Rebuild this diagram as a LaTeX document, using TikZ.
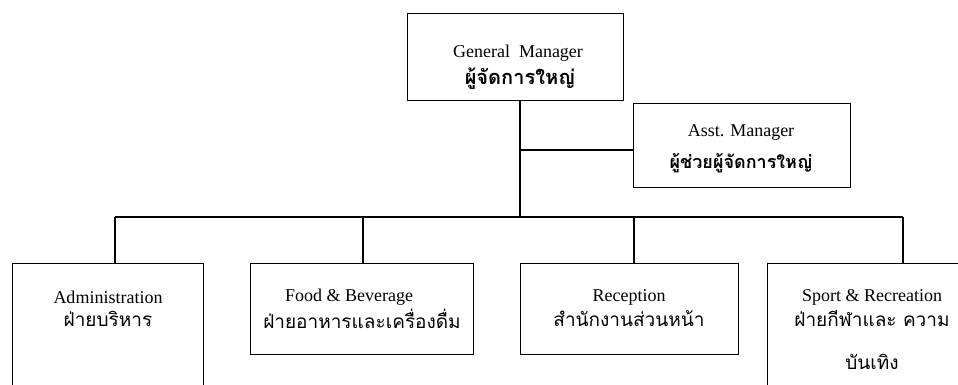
\documentclass[tikz,border=0pt]{standalone}
\usepackage{fontspec}
\setmainfont{Liberation Serif}
\newfontfamily\thaifont[Script=Thai]{Loma}
\begin{document}
\begin{tikzpicture}[x=1pt,y=-1pt,
  box/.style={draw,line width=1.3pt,rectangle,inner sep=0pt},
  en/.style={font=\fontsize{18}{20}\selectfont,inner sep=0pt},
  th/.style={font=\thaifont\fontsize{19}{22}\selectfont,inner sep=0pt},
  thb/.style={font=\thaifont\bfseries\fontsize{18}{22}\selectfont,inner sep=0pt},
  conn/.style={line width=1.3pt}]
\useasboundingbox (0,0) rectangle (958,385);
\clip (0,0) rectangle (958,385);
% boxes
\node[box,anchor=north west,minimum width=216pt,minimum height=87pt] (gm) at (407,13) {};
\node[box,anchor=north west,minimum width=217pt,minimum height=84pt] (asst) at (633,103) {};
\node[box,anchor=north west,minimum width=191pt,minimum height=140pt] (adm) at (12,263) {};
\node[box,anchor=north west,minimum width=223pt,minimum height=91pt] (fb) at (250,263) {};
\node[box,anchor=north west,minimum width=218pt,minimum height=91pt] (rec) at (520,263) {};
\node[box,anchor=north west,minimum width=220pt,minimum height=140pt] (spr) at (767,263) {};
% texts
\node[en] (gmt) at (518,53) {General\ \ Manager};
\node[thb,font=\thaifont\bfseries\fontsize{20}{22}\selectfont] (gmth) at (520,79) {ผู้จัดการใหญ่};
\node[en] (asstt) at (741,133) {Asst. Manager};
\node[thb] (assth) at (741,163) {ผู้ช่วยผู้จัดการใหญ่};
\node[en] (admt) at (108,297) {Administration};
\node[th] (admth) at (108,319) {ฝ่ายบริหาร};
\node[en] (fbt) at (349,297) {Food \& Beverage};
\node[th] (fbth) at (362,319) {ฝ่ายอาหารและเครื่องดื่ม};
\node[en] (rect) at (629,297) {Reception};
\node[th] (recth) at (629,319) {สำนักงานส่วนหน้า};
\node[en] (sprt) at (872,297) {Sport \& Recreation};
\node[th] (sprth) at (872,319) {ฝ่ายกีฬาและ ความ};
\node[th] (sprth2) at (872,362) {บันเทิง};
% connectors
\coordinate (j) at (520,217);
\coordinate (ja) at (520,150);
\coordinate (b1) at (115,217);
\coordinate (b2) at (363,217);
\coordinate (b3) at (634,217);
\coordinate (b4) at (903,217);
\draw[conn] (gm.south -| j) -- (j);
\draw[conn] (ja) -- (asst.west |- ja);
\draw[conn] (b1) -- (b4);
\draw[conn] (b1) -- (adm.north -| b1);
\draw[conn] (b2) -- (fb.north -| b2);
\draw[conn] (b3) -- (rec.north -| b3);
\draw[conn] (b4) -- (spr.north -| b4);
\end{tikzpicture}
\end{document}
